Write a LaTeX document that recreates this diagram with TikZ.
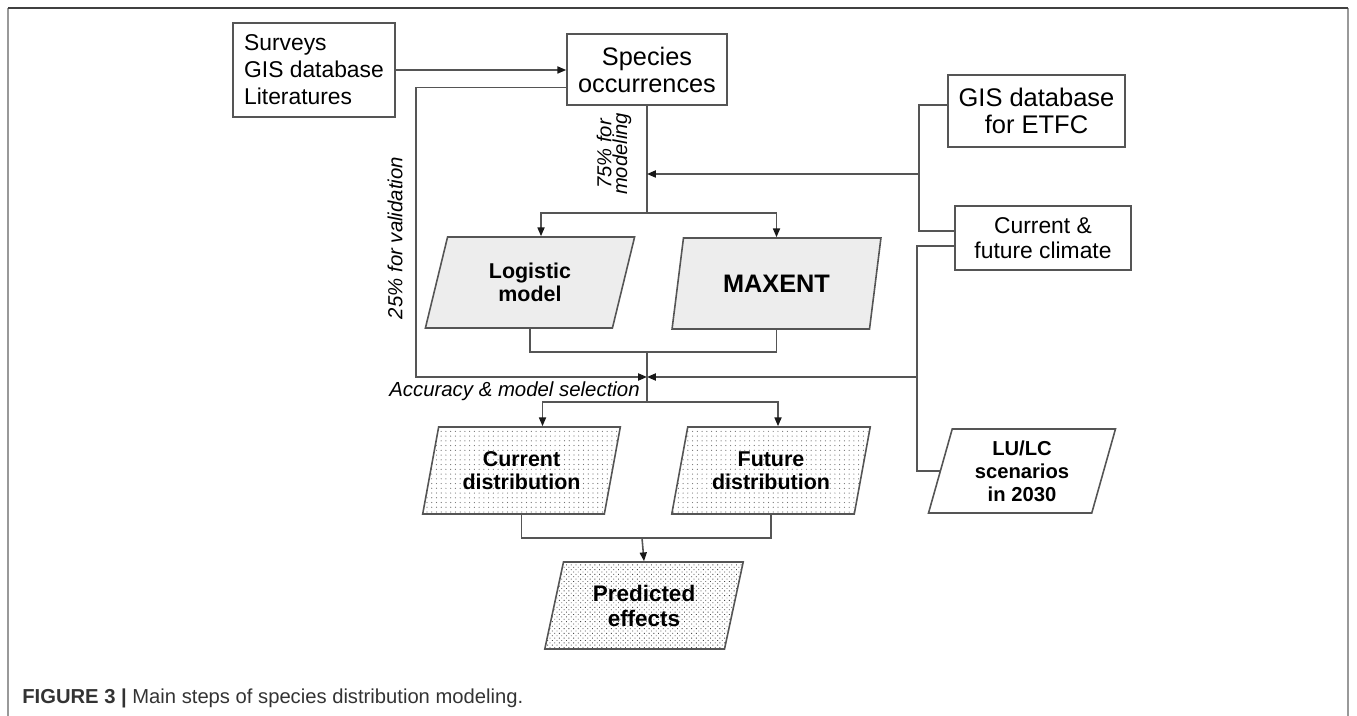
\documentclass[tikz,border=0pt]{standalone}
\usepackage{fontspec}
\setmainfont{Liberation Sans}
\usetikzlibrary{shapes.geometric,arrows.meta,patterns.meta,calc}
\definecolor{linegray}{HTML}{555555}
\definecolor{modelgray}{HTML}{EDEDED}
\tikzset{
  databox/.style    = {shape=rectangle, draw=linegray, line width=0.9pt,
                       align=center, inner sep=2pt},
  stepnode/.style   = {shape=trapezium, trapezium left angle=76,
                       trapezium right angle=104, trapezium stretches=true,
                       draw=linegray, line width=0.9pt, align=center,
                       font=\bfseries\fontsize{12.2}{13.2}\selectfont},
  modelnode/.style  = {stepnode, fill=modelgray},
  mapnode/.style    = {stepnode, pattern={Dots[distance=2.7pt,radius=0.35pt]},
                       pattern color=black!55},
  effectnode/.style = {stepnode, pattern={Dots[distance=1.9pt,angle=45,radius=0.35pt]},
                       pattern color=black!70},
  flow/.style       = {draw=linegray, line width=0.9pt},
  arr/.style        = {flow, -{Triangle[length=5pt,width=4pt,color=black!90]}},
  note/.style       = {inner sep=0pt, font=\itshape\fontsize{11.6}{12}\selectfont}
}
\begin{document}
\begin{tikzpicture}[x=0.02cm, y=-0.02cm]
  \useasboundingbox (0,0) rectangle (1357,716);
  % frame
  \draw[gray!80, line width=0.8pt] (8,716) -- (8,8);
  \draw[gray!80, line width=0.8pt] (1348,8) -- (1348,716);
  \draw[black!75, line width=0.8pt] (8,8) -- (1348,8);

  % input boxes
  \node[databox, minimum width=3.24cm, minimum height=1.88cm, align=left,
        font=\fontsize{13}{15.4}\selectfont] (src) at (314,70)
        {Surveys\\GIS database\\Literatures};
  \node[databox, minimum width=3.2cm, minimum height=1.42cm,
        font=\fontsize{14.4}{15.4}\selectfont] (occ) at (647,69.5)
        {Species\\occurrences};
  \node[databox, minimum width=3.54cm, minimum height=1.44cm,
        font=\fontsize{14.5}{15.4}\selectfont] (gis) at (1036.5,111)
        {GIS database\\for ETFC};
  \node[databox, minimum width=3.52cm, minimum height=1.28cm,
        font=\fontsize{13}{14.2}\selectfont] (clim) at (1043,238)
        {Current \&\\future climate};

  % models and outputs
  \node[modelnode, minimum width=4.2cm, minimum height=1.82cm] (logit) at (530,282.5)
        {Logistic\\model};
  \node[modelnode, minimum width=4.18cm, minimum height=1.82cm,
        font=\bfseries\fontsize{14.4}{16}\selectfont] (maxent) at (776.5,283.5) {MAXENT};
  \node[mapnode, minimum width=3.98cm, minimum height=1.74cm] (cur) at (521.5,470.5)
        {Current\\distribution};
  \node[mapnode, minimum width=4cm, minimum height=1.74cm] (fut) at (771,470.5)
        {Future\\distribution};
  \node[effectnode, minimum width=4cm, minimum height=1.74cm,
        font=\bfseries\fontsize{12.8}{14.2}\selectfont] (pred) at (644,605.5)
        {Predicted\\effects};
  \node[stepnode, minimum width=3.76cm, minimum height=1.68cm,
        font=\bfseries\fontsize{11.5}{13}\selectfont] (lulc) at (1022,471)
        {LU/LC\\scenarios\\in 2030};

  % labels
  \node[note, anchor=east] (acclbl) at (640,391) {Accuracy \& model selection};
  \node[note, rotate=90] (vallbl) at (395,238) {25\% for validation};
  \node[note, rotate=90, align=center,
        font=\itshape\fontsize{11.5}{9}\selectfont] (modlbl) at (614,154)
        {75\% for\\modeling};
  \node[anchor=west, inner sep=0pt, text=black!80,
        font=\fontsize{11.5}{13}\selectfont] (caption) at (22,698)
        {\textbf{FIGURE 3 |} Main steps of species distribution modeling.};

  % junctions
  \coordinate (inmod)   at (647,174);
  \coordinate (ebus)    at (919,174);
  \coordinate (fork1)   at (647,213);
  \coordinate (join1)   at (647,352);
  \coordinate (vcorner) at (416,377);
  \coordinate (acc)     at (647,377);
  \coordinate (lbus)    at (917,377);
  \coordinate (fork2)   at (647,402);
  \coordinate (join2)   at (642,538);

  % connectors
  \draw[arr] (src.east) -- (occ.west |- src.east);
  \draw[arr] ($(occ.west)+(0,18)$) -| (vcorner) -- (acc);
  \draw[flow] (occ.south) -- (fork1);
  \draw[arr] (fork1) -| ($(logit.north)+(11,0)$);
  \draw[arr] (fork1) -| (maxent.north);
  \draw[flow] ($(gis.west)+(0,-6)$) -| (ebus) |- ($(clim.west)+(0,-7)$);
  \draw[arr] (ebus) -- (inmod);
  \draw[flow] ($(clim.west)+(0,8)$) -| (lbus) |- (lulc.left side);
  \draw[arr] (lbus) -- (acc);
  \draw[flow] (logit.south) |- (join1) -| (maxent.south);
  \draw[flow] (join1) -- (fork2);
  \draw[arr] (fork2) -| ($(cur.north)+(21,0)$);
  \draw[arr] (fork2) -| ($(fut.north)+(7,0)$);
  \draw[flow] (cur.south) |- (join2) -| (fut.south);
  \draw[arr] (join2) -- (pred.north);
\end{tikzpicture}
\end{document}
